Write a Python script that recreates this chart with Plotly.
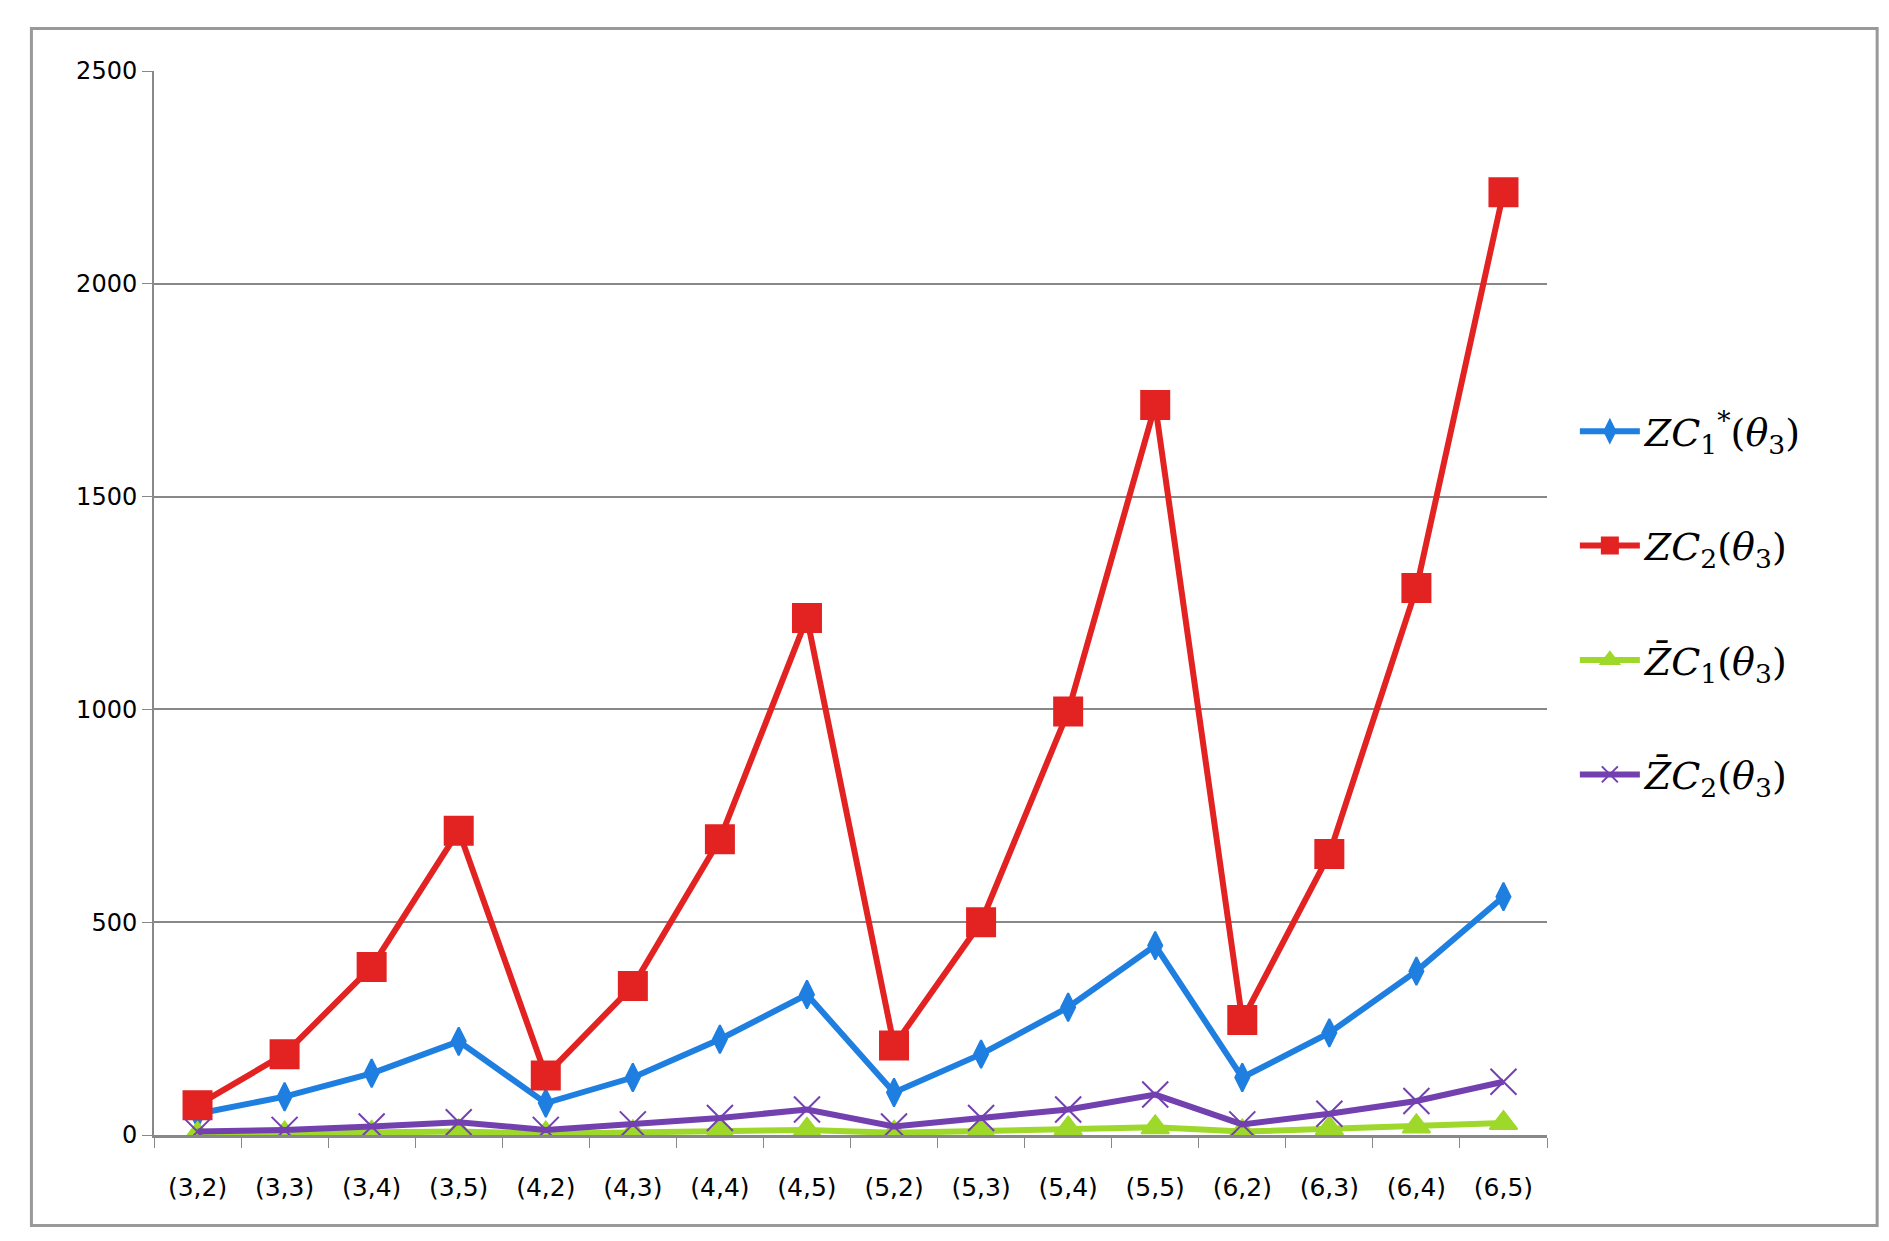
import plotly.graph_objects as go

categories = ["(3,2)","(3,3)","(3,4)","(3,5)","(4,2)","(4,3)","(4,4)","(4,5)",
              "(5,2)","(5,3)","(5,4)","(5,5)","(6,2)","(6,3)","(6,4)","(6,5)"]
zc1_star = [50,90,145,220,75,135,225,330,100,190,300,445,135,240,385,560]
zc2 = [70,190,395,715,140,350,695,1215,210,500,995,1715,270,660,1285,2215]
zc1_bar = [2,3,5,8,3,6,10,12,5,10,15,18,8,15,20,28]
zc2_bar = [8,12,20,30,12,25,40,60,20,40,60,95,25,50,80,125]

series = [
    ("<i>ZC</i><sub>1</sub><sup>*</sup>(<i>θ</i><sub>3</sub>)", zc1_star, "#1f7fe0", "diamond-tall", 20),
    ("<i>ZC</i><sub>2</sub>(<i>θ</i><sub>3</sub>)", zc2, "#e32222", "square", 28),
    ("<i>Z̄C</i><sub>1</sub>(<i>θ</i><sub>3</sub>)", zc1_bar, "#9ed82a", "triangle-up", 24),
    ("<i>Z̄C</i><sub>2</sub>(<i>θ</i><sub>3</sub>)", zc2_bar, "#7340b0", "x-thin", 26),
]

fig = go.Figure()
for i, (name, vals, col, sym, sz) in enumerate(series):
    fig.add_trace(go.Scatter(
        x=categories, y=vals, name=name, mode="lines+markers",
        legendgroup=str(i),
        line=dict(color=col, width=6),
        marker=dict(symbol=sym, size=sz, color=col, line=dict(color=col, width=2)),
    ))

fig.update_layout(
    width=1889, height=1241,
    paper_bgcolor="white", plot_bgcolor="white",
    margin=dict(l=146, r=350, t=63, b=114),
    font=dict(family="DejaVu Sans", size=24, color="black"),
    showlegend=True,
    legend=dict(x=1.02, y=0.5, yanchor="middle", xanchor="left",
                tracegroupgap=62, font=dict(family="DejaVu Serif", size=38),
                itemwidth=60),
    xaxis=dict(showgrid=False, showline=True, linecolor="#888", linewidth=3,
               range=[-0.5, 15.5],
               ticks="outside", ticklen=10, tickcolor="#888", tickson="boundaries",
               ticklabelstandoff=28, tickfont=dict(size=25)),
    yaxis=dict(range=[0, 2500], dtick=500, showgrid=True, gridcolor="#888", gridwidth=2,
               showline=True, linecolor="#888", linewidth=2, ticks="outside",
               ticklen=10, tickcolor="#888", zeroline=False, tickfont=dict(size=24)),
    shapes=[dict(type="rect", xref="paper", yref="paper", x0=-0.088, x1=1.237,
                 y0=-0.085, y1=1.04, line=dict(color="#999", width=3))],
)
fig.write_html("out.html")
